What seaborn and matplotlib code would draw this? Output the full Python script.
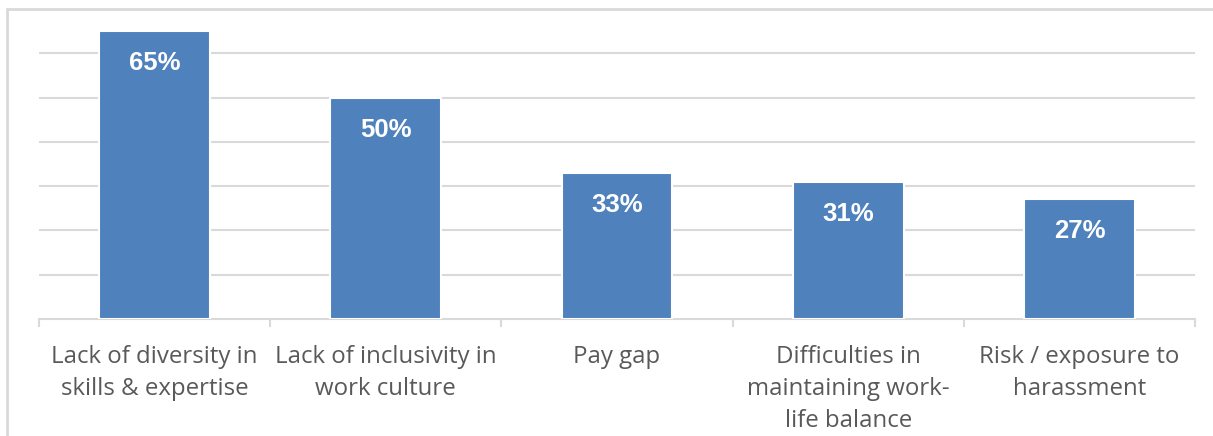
import matplotlib
matplotlib.use("Agg")
import matplotlib.pyplot as plt
import matplotlib.lines as mlines
import seaborn as sns
import pandas as pd

categories = [
    "Lack of diversity in\nskills & expertise",
    "Lack of inclusivity in\nwork culture",
    "Pay gap",
    "Difficulties in\nmaintaining work-\nlife balance",
    "Risk / exposure to\nharassment",
]
values = [65, 50, 33, 31, 27]
value_labels = ["65%", "50%", "33%", "31%", "27%"]

df = pd.DataFrame({"category": categories, "value": values})

sns.set_theme(style="white")
plt.rcParams["font.family"] = ["Open Sans", "DejaVu Sans"]

BLUE = "#4F81BD"
GRID = "#D9D9D9"
TEXT = "#595959"

fig = plt.figure(figsize=(12.13, 4.36), dpi=100)
ax = fig.add_axes([39 / 1213, 1 - 319 / 436, (1195 - 39) / 1213, (319 - 9) / 436])

sns.barplot(data=df, x="category", y="value", color=BLUE, width=0.48,
            edgecolor="white", linewidth=1.5, saturation=1, ax=ax, zorder=3)

ax.set_ylim(0, 70)
ax.set_xlim(-0.5, len(categories) - 0.5)
ax.set_yticks(range(10, 70, 10))
ax.yaxis.grid(True, color=GRID, linewidth=1.5, zorder=0)
ax.set_axisbelow(True)
ax.tick_params(axis="y", left=False, labelleft=False)

for s in ("top", "right", "left"):
    ax.spines[s].set_visible(False)
ax.spines["bottom"].set_color(GRID)
ax.spines["bottom"].set_linewidth(1.5)

# category boundaries carry the tick marks, labels sit at the centres
ax.set_xticks([i - 0.5 for i in range(len(categories) + 1)], minor=True)
ax.tick_params(axis="x", which="minor", bottom=True, length=6, width=1.5, color=GRID)
ax.tick_params(axis="x", which="major", bottom=False, pad=13)
ax.set_xticks(range(len(categories)))
ax.set_xticklabels(categories, fontsize=17.3, color=TEXT, linespacing=1.44, va="top")
ax.set_xlabel("")
ax.set_ylabel("")

for i, (v, lab) in enumerate(zip(values, value_labels)):
    ax.annotate(lab, (i, v), xytext=(0, -23), textcoords="offset points",
                ha="center", va="center", color="white", fontsize=18.5,
                fontweight="bold", family=["Liberation Sans", "DejaVu Sans"])

# chart area frame
fig.add_artist(mlines.Line2D([7 / 1213, 7 / 1213], [0, 1 - 9.5 / 436],
                             transform=fig.transFigure, color=GRID, linewidth=2))
fig.add_artist(mlines.Line2D([7 / 1213, 1], [1 - 9.5 / 436, 1 - 9.5 / 436],
                             transform=fig.transFigure, color=GRID, linewidth=2))

fig.savefig("out.png", dpi=100)
